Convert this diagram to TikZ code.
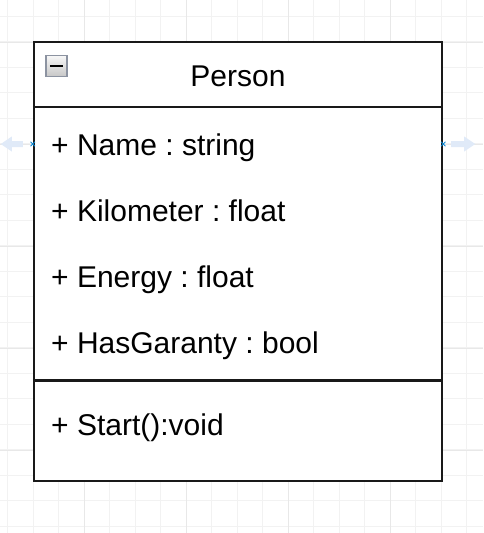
\documentclass[tikz,border=0pt]{standalone}
\usepackage{fontspec}
\setmainfont{Liberation Sans}
\usetikzlibrary{arrows.meta}
\definecolor{btnframe}{RGB}{140,147,161}
\frenchspacing

\begin{document}
\begin{tikzpicture}[x=1pt, y=-1pt]
	\tikzstyle{gridminor} = [
		draw=black!5, line width=0.7pt
	]
	\tikzstyle{gridmajor} = [
		draw=black!9, line width=0.7pt
	]
	\tikzstyle{umlbox} = [
		rectangle, draw=black!90, line width=2.4pt, fill=white, inner sep=0pt
	]
	\tikzstyle{member} = [
		anchor=base west, inner sep=0pt, font=\fontsize{30}{36}\selectfont
	]
	\tikzstyle{hint} = [
		draw=none, fill=cyan!60!blue!12
	]
	\tikzstyle{port} = [
		draw=cyan!70!blue, line width=0.9pt
	]

	\useasboundingbox[fill=white] (0,0) rectangle (483,533);

	% Grid
	\foreach \gx in {0,...,18}
		\draw[gridminor] ({7.5+\gx*25.5},0) -- ++(0,533);
	\foreach \gy in {0,...,20}
		\draw[gridminor] (0,{16+\gy*25.5}) -- ++(483,0);
	\foreach \gx in {84,186,288,390}
		\draw[gridmajor] (\gx,0) -- ++(0,533);
	\foreach \gy in {42,144,246,348,450}
		\draw[gridmajor] (0,\gy) -- ++(483,0);

	% Class
	\node (Person) [umlbox, minimum width=408pt, minimum height=439pt] at (238,261.5) {}
		% Compartments
		coordinate [yshift=-66pt]  (Person_head) at (Person.north west)
		coordinate [yshift=-66pt]  (Person_head2) at (Person.north east)
		coordinate [yshift=-339.5pt] (Person_div) at (Person.north west)
		coordinate [yshift=-339.5pt] (Person_div2) at (Person.north east)
	;
	\draw[line width=2.4pt, black!90] (Person_head) -- (Person_head2);
	\draw[line width=2.4pt, black!90] (Person_div) -- (Person_div2);

	% Caption
	\node (Title) [member, anchor=base] at (238,86.7) {Person};

	% Collapse button
	\node (Collapse) [rectangle, draw=btnframe, line width=1.5pt,
		top color=black!3, bottom color=black!22, minimum size=21pt, inner sep=0pt] at (56.5,66) {};
	\draw[line width=2.4pt] ([xshift=4.5pt]Collapse.west) -- ([xshift=-4.5pt]Collapse.east);

	% Attributes
	\node (Name)       [member] at (51,155) {+ Name : string};
	\node (Kilometer)  [member] at (51,221) {+ Kilometer : float};
	\node (Energy)     [member] at (51,287) {+ Energy : float};
	\node (HasGaranty) [member] at (51,353) {+ HasGaranty : bool};

	% Operations
	\node (Start) [member] at (51,435) {+ Start():void};

	% Hover arrows
	\coordinate (PortL) at (Person.west |- 0,144);
	\coordinate (PortR) at (Person.east |- 0,144);
	\fill[hint] ([xshift=-10pt]PortL) ++(0,-3) -- ++(-11,0) -- ++(0,-4.5)
		-- ++(-11,7.5) -- ++(11,7.5) -- ++(0,-4.5) -- ++(11,0) -- cycle;
	\fill[hint] ([xshift=8pt]PortR) ++(0,-3) -- ++(13,0) -- ++(0,-4.5)
		-- ++(11,7.5) -- ++(-11,7.5) -- ++(0,-4.5) -- ++(-13,0) -- cycle;
	\draw[port] (PortL) +(-2.2,-2.2) -- +(2.2,2.2) +(-2.2,2.2) -- +(2.2,-2.2);
	\draw[port] (PortR) +(-2.2,-2.2) -- +(2.2,2.2) +(-2.2,2.2) -- +(2.2,-2.2);

\end{tikzpicture}
\end{document}
